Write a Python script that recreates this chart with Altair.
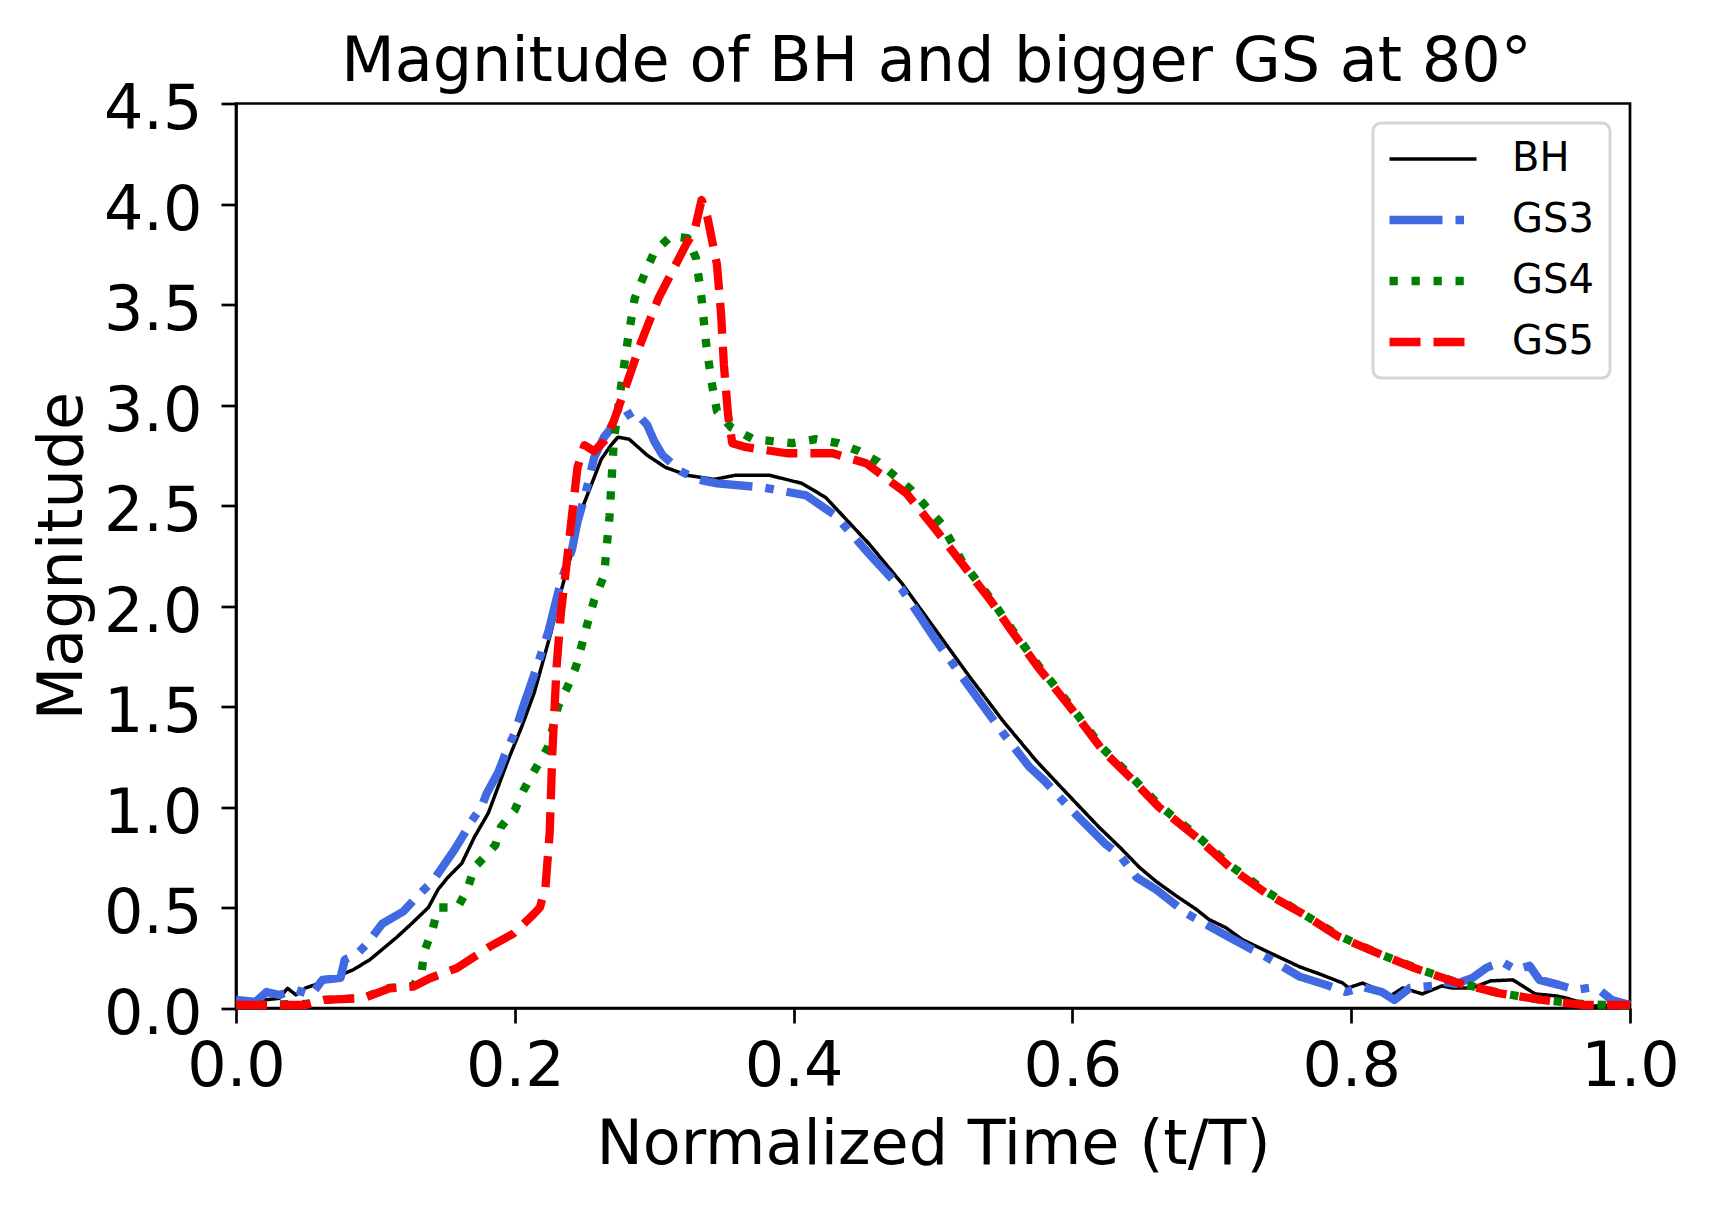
import altair as alt
import pandas as pd

FONT = "DejaVu Sans"

# ---- data ----
bh_t = [0.0, 0.02, 0.031, 0.037, 0.043, 0.05, 0.067, 0.084, 0.096, 0.115, 0.126, 0.138, 0.145, 0.152,
        0.162, 0.171, 0.181, 0.195, 0.205, 0.214, 0.226, 0.233, 0.243, 0.248, 0.262, 0.269, 0.274, 0.282,
        0.295, 0.308, 0.324, 0.343, 0.358, 0.383, 0.406, 0.423, 0.454, 0.478, 0.502, 0.526, 0.55, 0.574,
        0.593, 0.619, 0.634, 0.648, 0.66, 0.674, 0.689, 0.698, 0.71, 0.722, 0.74, 0.763, 0.777, 0.794,
        0.798, 0.808, 0.82, 0.826, 0.837, 0.851, 0.865, 0.872, 0.887, 0.90, 0.916, 0.932, 0.947, 0.954,
        0.973, 1.0]
bh_v = [0.03, 0.04, 0.048, 0.098, 0.065, 0.10, 0.14, 0.19, 0.24, 0.35, 0.42, 0.50, 0.59, 0.65,
        0.72, 0.85, 0.97, 1.23, 1.40, 1.57, 1.87, 2.07, 2.32, 2.48, 2.73, 2.80, 2.84, 2.83,
        2.75, 2.69, 2.65, 2.63, 2.65, 2.65, 2.61, 2.54, 2.31, 2.11, 1.88, 1.65, 1.43, 1.23,
        1.09, 0.90, 0.80, 0.70, 0.63, 0.56, 0.49, 0.44, 0.40, 0.34, 0.28, 0.205, 0.17, 0.124,
        0.10, 0.124, 0.09, 0.05, 0.10, 0.07, 0.11, 0.10, 0.10, 0.135, 0.14, 0.07, 0.06, 0.05,
        0.01, 0.015]

gs3_t = [0.0, 0.014, 0.022, 0.031, 0.043, 0.054, 0.062, 0.075, 0.078, 0.087, 0.094, 0.105, 0.12, 0.128,
         0.135, 0.141, 0.147, 0.157, 0.164, 0.169, 0.176, 0.18, 0.188, 0.193, 0.20, 0.206, 0.214, 0.224,
         0.229, 0.233, 0.241, 0.245, 0.25, 0.257, 0.264, 0.272, 0.281, 0.286, 0.295, 0.30, 0.306, 0.319,
         0.331, 0.345, 0.378, 0.409, 0.43, 0.454, 0.478, 0.502, 0.531, 0.55, 0.569, 0.58, 0.60, 0.623,
         0.634, 0.646, 0.66, 0.671, 0.682, 0.70, 0.713, 0.74, 0.763, 0.782, 0.796, 0.808, 0.822, 0.831,
         0.842, 0.858, 0.865, 0.875, 0.887, 0.897, 0.908, 0.918, 0.928, 0.935, 0.949, 0.961, 0.971,
         0.978, 0.987, 1.0]
gs3_v = [0.04, 0.03, 0.08, 0.065, 0.09, 0.065, 0.14, 0.15, 0.24, 0.27, 0.32, 0.42, 0.48, 0.54,
         0.59, 0.63, 0.69, 0.79, 0.87, 0.93, 1.00, 1.07, 1.17, 1.26, 1.37, 1.50, 1.66, 1.87,
         2.01, 2.12, 2.28, 2.42, 2.54, 2.74, 2.84, 2.91, 2.95, 2.97, 2.90, 2.82, 2.75, 2.67,
         2.63, 2.61, 2.59, 2.55, 2.45, 2.26, 2.08, 1.83, 1.55, 1.37, 1.20, 1.13, 0.98, 0.82,
         0.76, 0.65, 0.59, 0.53, 0.47, 0.40, 0.35, 0.25, 0.156, 0.115, 0.08, 0.105, 0.08, 0.04,
         0.10, 0.11, 0.13, 0.12, 0.15, 0.20, 0.23, 0.19, 0.21, 0.14, 0.115, 0.09, 0.10,
         0.09, 0.04, 0.015]

gs4_t = [0.0, 0.05, 0.063, 0.091, 0.11, 0.127, 0.133, 0.135, 0.141, 0.145, 0.152, 0.159, 0.166, 0.171,
         0.178, 0.186, 0.19, 0.20, 0.206, 0.214, 0.224, 0.231, 0.238, 0.244, 0.252, 0.257, 0.264, 0.268,
         0.271, 0.276, 0.281, 0.286, 0.293, 0.30, 0.312, 0.324, 0.33, 0.334, 0.337, 0.341, 0.345, 0.355,
         0.371, 0.399, 0.416, 0.432, 0.447, 0.46, 0.484, 0.506, 0.521, 0.541, 0.557, 0.576, 0.598, 0.622,
         0.641, 0.662, 0.689, 0.713, 0.739, 0.765, 0.791, 0.82, 0.846, 0.877, 0.906, 0.937, 0.966, 1.0]
gs4_v = [0.015, 0.02, 0.04, 0.05, 0.10, 0.11, 0.17, 0.28, 0.39, 0.50, 0.50, 0.50, 0.59, 0.70,
         0.75, 0.81, 0.90, 0.985, 1.08, 1.18, 1.30, 1.50, 1.60, 1.70, 1.91, 2.03, 2.15, 2.45,
         2.82, 3.08, 3.32, 3.53, 3.65, 3.76, 3.84, 3.83, 3.73, 3.53, 3.32, 3.12, 2.97, 2.89,
         2.83, 2.81, 2.83, 2.81, 2.77, 2.72, 2.58, 2.41, 2.22, 2.04, 1.88, 1.70, 1.51, 1.29,
         1.16, 1.01, 0.86, 0.71, 0.58, 0.47, 0.36, 0.27, 0.20, 0.125, 0.075, 0.04, 0.02, 0.01]

gs5_t = [0.0, 0.05, 0.063, 0.091, 0.11, 0.127, 0.139, 0.158, 0.182, 0.199, 0.214, 0.218, 0.222, 0.225,
         0.227, 0.23, 0.233, 0.237, 0.241, 0.245, 0.25, 0.257, 0.264, 0.271, 0.281, 0.291, 0.303, 0.317,
         0.323, 0.329, 0.334, 0.338, 0.345, 0.348, 0.350, 0.353, 0.356, 0.366, 0.395, 0.428, 0.452, 0.481,
         0.502, 0.521, 0.541, 0.557, 0.576, 0.598, 0.622, 0.641, 0.662, 0.689, 0.713, 0.739, 0.765, 0.791,
         0.82, 0.846, 0.877, 0.906, 0.937, 0.966, 1.0]
gs5_v = [0.015, 0.015, 0.04, 0.048, 0.098, 0.106, 0.148, 0.197, 0.305, 0.37, 0.47, 0.50, 0.60, 0.87,
         1.28, 1.70, 1.96, 2.20, 2.45, 2.69, 2.80, 2.77, 2.82, 2.92, 3.12, 3.32, 3.53, 3.72,
         3.80, 3.87, 4.02, 3.94, 3.70, 3.45, 3.20, 2.95, 2.81, 2.79, 2.76, 2.76, 2.71, 2.56,
         2.38, 2.21, 2.03, 1.87, 1.69, 1.50, 1.28, 1.15, 1.00, 0.85, 0.70, 0.57, 0.47, 0.355,
         0.27, 0.197, 0.124, 0.074, 0.04, 0.015, 0.015]

series_names = ["BH", "GS3", "GS4", "GS5"]
series_colors = ["#000000", "#4169E1", "#008000", "#FF0000"]
series_dash = [[1, 0], [53, 13, 8.5, 13], [8.3, 13.7], [31, 13]]
series_width = [3.5, 8.3, 8.3, 8.3]

x_ticks = [0.0, 0.2, 0.4, 0.6, 0.8, 1.0]
y_ticks = [0.0, 0.5, 1.0, 1.5, 2.0, 2.5, 3.0, 3.5, 4.0, 4.5]

chart_title = "Magnitude of BH and bigger GS at 80°"
x_title = "Normalized Time (t/T)"
y_title = "Magnitude"

rows = []
for name, ts, vs in zip(series_names, [bh_t, gs3_t, gs4_t, gs5_t], [bh_v, gs3_v, gs4_v, gs5_v]):
    for i, (t, v) in enumerate(zip(ts, vs)):
        rows.append({"series": name, "t": t, "v": v, "idx": i})
df = pd.DataFrame(rows)

x_scale = alt.Scale(domain=[0, 1], nice=False)
y_scale = alt.Scale(domain=[0, 4.5], nice=False)

legend = alt.Legend(
    title=None, orient="none", legendX=1137, legendY=19.5,
    symbolType="stroke", symbolSize=7569, clipHeight=40, symbolOffset=-4,
    labelFont=FONT, labelFontSize=40, labelColor="black", labelOffset=31,
    rowPadding=21, padding=16, strokeColor="#d5d5d5", cornerRadius=8, fillColor="white",
)

lines = alt.Chart(df).mark_line(strokeJoin="round", strokeCap="butt").encode(
    x=alt.X("t:Q", scale=x_scale,
            axis=alt.Axis(orient="bottom", values=x_ticks, format=".1f", title=x_title,
                          labelPadding=13, labelFlush=False, labelOverlap=False,
                          titleBaseline="alphabetic", titleY=155, titleX=697, titleAlign="center")),
    y=alt.Y("v:Q", scale=y_scale,
            axis=alt.Axis(values=y_ticks, format=".1f", title=y_title,
                          labelPadding=19, labelOffset=6, labelFlush=False, labelOverlap=False,
                          titleAngle=270, titleBaseline="alphabetic", titleX=-155, titleY=452,
                          titleAlign="center")),
    color=alt.Color("series:N", scale=alt.Scale(domain=series_names, range=series_colors), legend=legend),
    strokeDash=alt.StrokeDash("series:N", scale=alt.Scale(domain=series_names, range=series_dash), legend=legend),
    strokeWidth=alt.StrokeWidth("series:N", scale=alt.Scale(type="ordinal", domain=series_names, range=series_width),
                                legend=legend),
    order=alt.Order("idx:Q"),
)

# chart title carried by a top axis so that it sits at an exact offset above the frame
title_layer = alt.Chart(df).mark_point(opacity=0).encode(
    x=alt.X("t:Q", scale=x_scale,
            axis=alt.Axis(orient="top", title=chart_title, labels=False, ticks=False, domain=False,
                          titleBaseline="alphabetic", titleY=-23.5, titleX=700, titleAlign="center")),
)

chart = alt.layer(lines, title_layer).resolve_axis(x="independent").properties(
    width=1394, height=904.5,
    autosize=alt.AutoSizeParams(type="none"),
    padding={"left": 228, "top": 95.5, "right": 60, "bottom": 185},
).configure_view(
    stroke="black", strokeWidth=2.7
).configure_axis(
    domainColor="black", domainWidth=2.7, tickColor="black", tickWidth=2.7, tickSize=15,
    grid=False, labelFont=FONT, labelFontSize=62, labelColor="black",
    titleFont=FONT, titleFontSize=62, titleFontWeight="normal", titleColor="black",
).configure_legend(
    strokeWidth=3
)

chart.save("out.html", embed_options={"renderer": "svg", "actions": False})
